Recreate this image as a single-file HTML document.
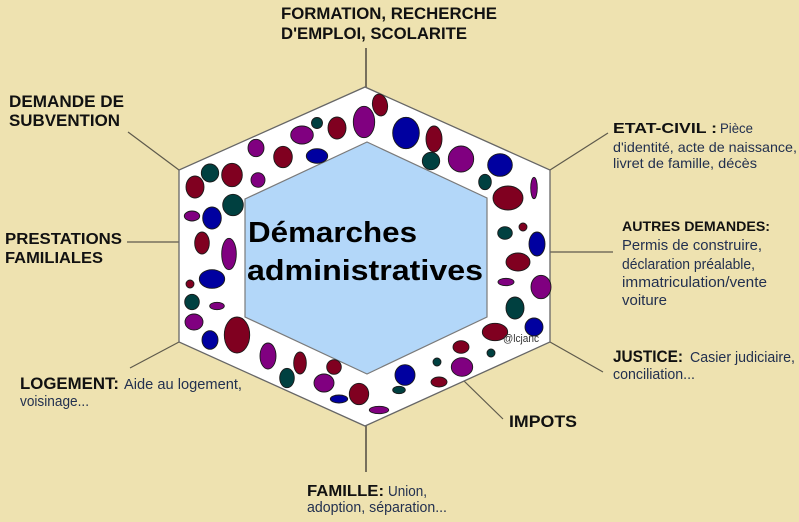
<!DOCTYPE html>
<html>
<head>
<meta charset="utf-8">
<style>
  html, body { margin:0; padding:0; background:#EEE2B0; }
  svg { display:block; }
  .b { font-family:"Liberation Sans", Arial, sans-serif; font-weight:bold; fill:#111; }
  .r { font-family:"Liberation Sans", Arial, sans-serif; font-weight:normal; fill:#22304f; }
</style>
</head>
<body>
<svg width="799" height="522" viewBox="0 0 799 522" xmlns="http://www.w3.org/2000/svg">
  <rect x="0" y="0" width="799" height="522" fill="#EEE2B0"/>

  <!-- connectors -->
  <g stroke="#5e5a4c" stroke-width="1.2" fill="none">
    <line x1="366" y1="48" x2="366" y2="87" stroke-width="2" stroke="#77705c"/>
    <line x1="128" y1="132" x2="179" y2="170"/>
    <line x1="550" y1="170" x2="608" y2="133"/>
    <line x1="127" y1="242" x2="179" y2="242"/>
    <line x1="550" y1="252" x2="613" y2="252"/>
    <line x1="179" y1="342" x2="130" y2="368"/>
    <line x1="550" y1="342" x2="603" y2="372"/>
    <line x1="464" y1="381" x2="503" y2="419"/>
    <line x1="366" y1="426" x2="366" y2="472" stroke-width="2" stroke="#77705c"/>
  </g>

  <!-- outer hexagon -->
  <polygon points="365,87 550,170 550,342 365,426 179,342 179,170" fill="#ffffff" stroke="#666" stroke-width="1.3"/>
  <!-- inner hexagon -->
  <polygon points="367,142 487,198 487,317 367,374 245,317 245,199" fill="#B3D7F9" stroke="#7a7a7a" stroke-width="1.2"/>

  <!-- ellipses -->
  <g stroke="#1a1a1a" stroke-width="0.9">
    <ellipse cx="380" cy="105" rx="7.5" ry="11" fill="#800020" transform="rotate(-10 380 105)"/>
    <ellipse cx="364" cy="122" rx="10.7" ry="15.7" fill="#800080"/>
    <ellipse cx="337" cy="128" rx="9" ry="11" fill="#800020"/>
    <ellipse cx="317" cy="123" rx="5.5" ry="5.5" fill="#004040"/>
    <ellipse cx="302" cy="135" rx="11.3" ry="9" fill="#800080"/>
    <ellipse cx="317" cy="156" rx="10.7" ry="7.3" fill="#0000A0"/>
    <ellipse cx="256" cy="148" rx="8" ry="8.7" fill="#800080"/>
    <ellipse cx="283" cy="157" rx="9.3" ry="10.7" fill="#800020"/>
    <ellipse cx="406" cy="133" rx="13.3" ry="15.7" fill="#0000A0"/>
    <ellipse cx="434" cy="139" rx="8" ry="13" fill="#800020"/>
    <ellipse cx="431" cy="161" rx="8.7" ry="8.7" fill="#004040"/>
    <ellipse cx="461" cy="159" rx="12.7" ry="13" fill="#800080"/>
    <ellipse cx="500" cy="165" rx="12.3" ry="11.3" fill="#0000A0"/>
    <ellipse cx="485" cy="182" rx="6.3" ry="7.7" fill="#004040"/>
    <ellipse cx="508" cy="198" rx="15" ry="12" fill="#800020"/>
    <ellipse cx="534" cy="188" rx="3.3" ry="10.7" fill="#800080"/>
    <ellipse cx="210" cy="173" rx="8.7" ry="9" fill="#004040"/>
    <ellipse cx="232" cy="175" rx="10.3" ry="11.7" fill="#800020"/>
    <ellipse cx="195" cy="187" rx="9" ry="11" fill="#800020"/>
    <ellipse cx="258" cy="180" rx="7" ry="7.3" fill="#800080"/>
    <ellipse cx="233" cy="205" rx="10.3" ry="10.7" fill="#004040"/>
    <ellipse cx="192" cy="216" rx="7.7" ry="5" fill="#800080"/>
    <ellipse cx="212" cy="218" rx="9.3" ry="11" fill="#0000A0"/>
    <ellipse cx="202" cy="243" rx="7.3" ry="11" fill="#800020"/>
    <ellipse cx="229" cy="254" rx="7.3" ry="15.7" fill="#800080"/>
    <ellipse cx="212" cy="279" rx="12.7" ry="9.3" fill="#0000A0"/>
    <ellipse cx="190" cy="284" rx="4" ry="4" fill="#800020"/>
    <ellipse cx="192" cy="302" rx="7.3" ry="7.7" fill="#004040"/>
    <ellipse cx="217" cy="306" rx="7.3" ry="3.7" fill="#800080"/>
    <ellipse cx="194" cy="322" rx="9" ry="8" fill="#800080"/>
    <ellipse cx="237" cy="335" rx="12.7" ry="18" fill="#800020"/>
    <ellipse cx="210" cy="340" rx="8" ry="9.3" fill="#0000A0"/>
    <ellipse cx="268" cy="356" rx="8" ry="13" fill="#800080"/>
    <ellipse cx="523" cy="227" rx="4" ry="4" fill="#800020"/>
    <ellipse cx="505" cy="233" rx="7.3" ry="6.3" fill="#004040"/>
    <ellipse cx="537" cy="244" rx="8" ry="12" fill="#0000A0"/>
    <ellipse cx="518" cy="262" rx="12" ry="9" fill="#800020"/>
    <ellipse cx="506" cy="282" rx="8" ry="3.7" fill="#800080"/>
    <ellipse cx="541" cy="287" rx="10" ry="11.7" fill="#800080"/>
    <ellipse cx="515" cy="308" rx="9" ry="11" fill="#004040"/>
    <ellipse cx="495" cy="332" rx="12.7" ry="8.7" fill="#800020"/>
    <ellipse cx="534" cy="327" rx="9" ry="9" fill="#0000A0"/>
    <ellipse cx="461" cy="347" rx="8" ry="6.3" fill="#800020"/>
    <ellipse cx="491" cy="353" rx="4" ry="4" fill="#004040"/>
    <ellipse cx="437" cy="362" rx="4" ry="4" fill="#004040"/>
    <ellipse cx="300" cy="363" rx="6.3" ry="11" fill="#800020"/>
    <ellipse cx="287" cy="378" rx="7.3" ry="9.7" fill="#004040"/>
    <ellipse cx="334" cy="367" rx="7.3" ry="7.3" fill="#800020"/>
    <ellipse cx="324" cy="383" rx="10" ry="9" fill="#800080"/>
    <ellipse cx="339" cy="399" rx="8.7" ry="4" fill="#0000A0"/>
    <ellipse cx="359" cy="394" rx="9.7" ry="10.7" fill="#800020"/>
    <ellipse cx="379" cy="410" rx="9.7" ry="3.7" fill="#800080"/>
    <ellipse cx="405" cy="375" rx="10" ry="10.3" fill="#0000A0"/>
    <ellipse cx="399" cy="390" rx="6.3" ry="3.7" fill="#004040"/>
    <ellipse cx="439" cy="382" rx="8" ry="5" fill="#800020"/>
    <ellipse cx="462" cy="367" rx="10.7" ry="9.3" fill="#800080"/>
  </g>

  <!-- center title -->
  <text class="b" x="248" y="242" font-size="29" textLength="169" lengthAdjust="spacingAndGlyphs" style="fill:#000">Démarches</text>
  <text class="b" x="247" y="280" font-size="29" textLength="236" lengthAdjust="spacingAndGlyphs" style="fill:#000">administratives</text>
  <text class="r" x="503" y="342" font-size="11" textLength="36" lengthAdjust="spacingAndGlyphs" style="fill:#333">@lcjanc</text>

  <!-- top -->
  <text class="b" x="281" y="19" font-size="16.5" textLength="216" lengthAdjust="spacingAndGlyphs">FORMATION, RECHERCHE</text>
  <text class="b" x="281" y="39" font-size="16.5" textLength="186" lengthAdjust="spacingAndGlyphs">D'EMPLOI, SCOLARITE</text>

  <!-- upper left -->
  <text class="b" x="9" y="107" font-size="16.5" textLength="115" lengthAdjust="spacingAndGlyphs">DEMANDE DE</text>
  <text class="b" x="9" y="126" font-size="16.5" textLength="111" lengthAdjust="spacingAndGlyphs">SUBVENTION</text>

  <!-- left -->
  <text class="b" x="5" y="244" font-size="16" textLength="117" lengthAdjust="spacingAndGlyphs">PRESTATIONS</text>
  <text class="b" x="5" y="263" font-size="16" textLength="98" lengthAdjust="spacingAndGlyphs">FAMILIALES</text>

  <!-- upper right -->
  <text class="b" x="613" y="133" font-size="15" textLength="104" lengthAdjust="spacingAndGlyphs">ETAT-CIVIL :</text>
  <text class="r" x="720" y="133" font-size="13.5" textLength="33" lengthAdjust="spacingAndGlyphs">Pièce</text>
  <text class="r" x="613" y="152" font-size="14" textLength="184" lengthAdjust="spacingAndGlyphs">d'identité, acte de naissance,</text>
  <text class="r" x="613" y="168" font-size="14" textLength="144" lengthAdjust="spacingAndGlyphs">livret de famille, décès</text>

  <!-- right -->
  <text class="b" x="622" y="231" font-size="14" textLength="148" lengthAdjust="spacingAndGlyphs">AUTRES DEMANDES:</text>
  <text class="r" x="622" y="250" font-size="14.5" textLength="140" lengthAdjust="spacingAndGlyphs">Permis de construire,</text>
  <text class="r" x="622" y="269" font-size="14.5" textLength="133" lengthAdjust="spacingAndGlyphs">déclaration préalable,</text>
  <text class="r" x="622" y="287" font-size="14.5" textLength="145" lengthAdjust="spacingAndGlyphs">immatriculation/vente</text>
  <text class="r" x="622" y="305" font-size="14.5" textLength="45" lengthAdjust="spacingAndGlyphs">voiture</text>

  <!-- lower right -->
  <text class="b" x="613" y="362" font-size="16.5" textLength="70" lengthAdjust="spacingAndGlyphs">JUSTICE:</text>
  <text class="r" x="690" y="362" font-size="15" textLength="105" lengthAdjust="spacingAndGlyphs">Casier judiciaire,</text>
  <text class="r" x="613" y="379" font-size="15" textLength="82" lengthAdjust="spacingAndGlyphs">conciliation...</text>

  <!-- impots -->
  <text class="b" x="509" y="427" font-size="17" textLength="68" lengthAdjust="spacingAndGlyphs">IMPOTS</text>

  <!-- bottom -->
  <text class="b" x="307" y="496" font-size="16" textLength="77" lengthAdjust="spacingAndGlyphs">FAMILLE:</text>
  <text class="r" x="388" y="496" font-size="14.5" textLength="39" lengthAdjust="spacingAndGlyphs">Union,</text>
  <text class="r" x="307" y="512" font-size="14.5" textLength="140" lengthAdjust="spacingAndGlyphs">adoption, séparation...</text>

  <!-- lower left -->
  <text class="b" x="20" y="389" font-size="16.5" textLength="99" lengthAdjust="spacingAndGlyphs">LOGEMENT:</text>
  <text class="r" x="124" y="389" font-size="14.5" textLength="118" lengthAdjust="spacingAndGlyphs">Aide au logement,</text>
  <text class="r" x="20" y="406" font-size="14.5" textLength="69" lengthAdjust="spacingAndGlyphs">voisinage...</text>
</svg>
</body>
</html>
